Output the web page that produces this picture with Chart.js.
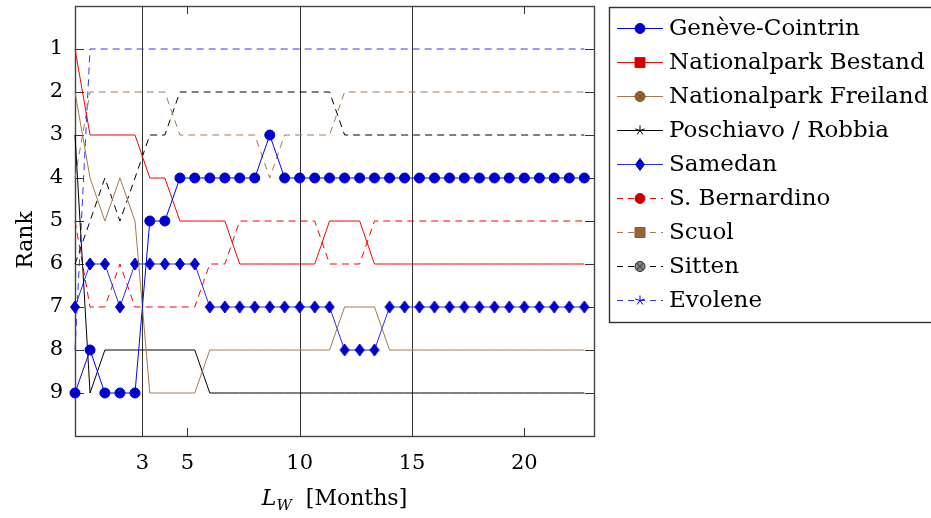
<!DOCTYPE html>
<html>
<head>
<meta charset="utf-8">
<script src="https://cdn.jsdelivr.net/npm/chart.js@4.4.1/dist/chart.umd.min.js"></script>
<style>
    html, body { margin: 0; padding: 0; background: #fff; }
    #wrap { width: 931px; height: 518px; }
</style>
</head>
<body>
<div id="wrap"><canvas id="graph"></canvas></div>
<script>
// Window length L_W in months (one point every 20 days)
const months = [0, 0.67, 1.33, 2, 2.67, 3.33, 4, 4.67, 5.33, 6, 6.67, 7.33, 8, 8.67, 9.33, 10,
    10.67, 11.33, 12, 12.67, 13.33, 14, 14.67, 15.33, 16, 16.67, 17.33, 18, 18.67, 19.33, 20,
    20.67, 21.33, 22, 22.67];

// Rank of each station per window length
const geneveCointrin = [9, 8, 9, 9, 9, 5, 5, 4, 4, 4, 4, 4, 4, 3, 4, 4, 4, 4, 4, 4,
    4, 4, 4, 4, 4, 4, 4, 4, 4, 4, 4, 4, 4, 4, 4];
const nationalparkBestand = [1, 3, 3, 3, 3, 4, 4, 5, 5, 5, 5, 6, 6, 6, 6, 6, 6, 5, 5, 5,
    6, 6, 6, 6, 6, 6, 6, 6, 6, 6, 6, 6, 6, 6, 6];
const nationalparkFreiland = [2, 4, 5, 4, 5, 9, 9, 9, 9, 8, 8, 8, 8, 8, 8, 8, 8, 8, 7, 7,
    7, 8, 8, 8, 8, 8, 8, 8, 8, 8, 8, 8, 8, 8, 8];
const poschiavoRobbia = [3, 9, 8, 8, 8, 8, 8, 8, 8, 9, 9, 9, 9, 9, 9, 9, 9, 9, 9, 9,
    9, 9, 9, 9, 9, 9, 9, 9, 9, 9, 9, 9, 9, 9, 9];
const samedan = [7, 6, 6, 7, 6, 6, 6, 6, 6, 7, 7, 7, 7, 7, 7, 7, 7, 7, 8, 8,
    8, 7, 7, 7, 7, 7, 7, 7, 7, 7, 7, 7, 7, 7, 7];
const sBernardino = [5, 7, 7, 6, 7, 7, 7, 7, 7, 6, 6, 5, 5, 5, 5, 5, 5, 6, 6, 6,
    5, 5, 5, 5, 5, 5, 5, 5, 5, 5, 5, 5, 5, 5, 5];
const scuol = [4, 2, 2, 2, 2, 2, 2, 3, 3, 3, 3, 3, 3, 4, 3, 3, 3, 3, 2, 2,
    2, 2, 2, 2, 2, 2, 2, 2, 2, 2, 2, 2, 2, 2, 2];
const sitten = [6, 5, 4, 5, 4, 3, 3, 2, 2, 2, 2, 2, 2, 2, 2, 2, 2, 2, 3, 3,
    3, 3, 3, 3, 3, 3, 3, 3, 3, 3, 3, 3, 3, 3, 3];
const evolene = [8, 1, 1, 1, 1, 1, 1, 1, 1, 1, 1, 1, 1, 1, 1, 1, 1, 1, 1, 1,
    1, 1, 1, 1, 1, 1, 1, 1, 1, 1, 1, 1, 1, 1, 1];

const stationNames = ['Genève-Cointrin', 'Nationalpark Bestand', 'Nationalpark Freiland',
    'Poschiavo / Robbia', 'Samedan', 'S. Bernardino', 'Scuol', 'Sitten', 'Evolene'];
const stationRanks = [geneveCointrin, nationalparkBestand, nationalparkFreiland, poschiavoRobbia,
    samedan, sBernardino, scuol, sitten, evolene];

// Axis ticks
const xTickValues = [3, 5, 10, 15, 20];
const guideMonths = [3, 10, 15];
const yTickValues = [1, 2, 3, 4, 5, 6, 7, 8, 9];

const FONT = 'DejaVu Serif';
const BLUE = '#0000ff', DARKBLUE = '#0000cc';
const RED = '#ff0000', DARKRED = '#cc0000';
const BROWN = '#a27a52', DARKBROWN = '#996633';
const DASH = [7, 5];

// Line / marker style per station (pgfplots look)
const looks = [
    { line: BLUE, dash: [], mark: 'circle', fill: DARKBLUE, edge: DARKBLUE, shown: true },
    { line: RED, dash: [], mark: 'square', fill: DARKRED, edge: RED },
    { line: BROWN, dash: [], mark: 'otimes', fill: DARKBROWN, edge: '#6b4a26' },
    { line: '#000', dash: [], mark: 'star', edge: '#000' },
    { line: '#2a2aff', dash: [], mark: 'diamond', fill: DARKBLUE, edge: DARKBLUE, shown: true },
    { line: RED, dash: DASH, mark: 'circle', fill: DARKRED, edge: DARKRED },
    { line: BROWN, dash: DASH, mark: 'square', fill: DARKBROWN, edge: '#8a5a2a' },
    { line: '#000', dash: DASH, mark: 'otimes', fill: '#888', edge: '#222' },
    { line: '#3333ff', dash: DASH, mark: 'star', edge: BLUE }
];

const drawMark = (ctx, look, cx, cy) => {
    ctx.save();
    ctx.setLineDash([]);
    ctx.lineWidth = 1;
    ctx.fillStyle = look.fill || look.edge;
    ctx.strokeStyle = look.edge;
    ctx.beginPath();
    if (look.mark === 'circle' || look.mark === 'otimes') {
        ctx.arc(cx, cy, 5, 0, Math.PI * 2);
        ctx.fill();
        ctx.stroke();
        if (look.mark === 'otimes') {
            const d = 3.5;
            ctx.beginPath();
            ctx.moveTo(cx - d, cy - d); ctx.lineTo(cx + d, cy + d);
            ctx.moveTo(cx - d, cy + d); ctx.lineTo(cx + d, cy - d);
            ctx.stroke();
        }
    } else if (look.mark === 'square') {
        ctx.rect(cx - 5, cy - 5, 10, 10);
        ctx.fill();
        ctx.stroke();
    } else if (look.mark === 'diamond') {
        ctx.moveTo(cx, cy - 6); ctx.lineTo(cx + 4.5, cy);
        ctx.lineTo(cx, cy + 6); ctx.lineTo(cx - 4.5, cy);
        ctx.closePath();
        ctx.fill();
        ctx.stroke();
    } else if (look.mark === 'star') {
        for (let i = 0; i < 5; i++) {
            const a = -Math.PI / 2 + i * 2 * Math.PI / 5;
            ctx.moveTo(cx, cy);
            ctx.lineTo(cx + 5 * Math.cos(a), cy + 5 * Math.sin(a));
        }
        ctx.stroke();
    }
    ctx.restore();
};

// Diamond marker as a small canvas so it can be taller than wide
const diamondImg = document.createElement('canvas');
diamondImg.width = 12; diamondImg.height = 14;
drawMark(diamondImg.getContext('2d'), looks[4], 6, 7);

const datasets = stationNames.map((name, i) => {
    const look = looks[i];
    return {
        label: name,
        data: months.map((m, k) => ({ x: m, y: stationRanks[i][k] })),
        borderColor: look.line,
        borderWidth: 1,
        borderDash: look.dash,
        tension: 0,
        fill: false,
        clip: false,
        pointRadius: look.shown ? 5 : 0,
        pointHoverRadius: look.shown ? 5 : 0,
        pointStyle: look.mark === 'diamond' ? diamondImg : 'circle',
        pointBackgroundColor: look.fill,
        pointBorderColor: look.edge,
        pointBorderWidth: 1
    };
});

const framePlugin = {
    id: 'frame',
    beforeDatasetsDraw (chart) {
        const { ctx, chartArea: a, scales: { x, y } } = chart;
        const px = v => Math.round(x.getPixelForValue(v)) + 0.5;
        const py = v => Math.round(y.getPixelForValue(v)) + 0.5;
        ctx.save();
        ctx.lineWidth = 1;
        ctx.strokeStyle = '#333';
        ctx.beginPath();
        // full height guide lines
        guideMonths.forEach((v) => {
            ctx.moveTo(px(v), a.top); ctx.lineTo(px(v), a.bottom);
        });
        // inward ticks, on both sides
        xTickValues.forEach((v) => {
            ctx.moveTo(px(v), a.bottom); ctx.lineTo(px(v), a.bottom - 8);
            ctx.moveTo(px(v), a.top); ctx.lineTo(px(v), a.top + 8);
        });
        yTickValues.forEach((v) => {
            ctx.moveTo(a.left, py(v)); ctx.lineTo(a.left + 9, py(v));
            ctx.moveTo(a.right, py(v)); ctx.lineTo(a.right - 9, py(v));
        });
        ctx.stroke();
        ctx.strokeStyle = '#444';
        ctx.lineWidth = 1.4;
        ctx.strokeRect(Math.round(a.left) + 0.5, Math.round(a.top) + 0.5,
            Math.round(a.right - a.left), Math.round(a.bottom - a.top));
        ctx.restore();
    },
    afterDraw (chart) {
        const { ctx, chartArea: a } = chart;
        ctx.save();
        ctx.fillStyle = '#000';

        // x axis title: L_W [Months]
        const big = `22px ${FONT}`, it = `italic 22px ${FONT}`, sub = `italic 15px ${FONT}`;
        ctx.font = it; const wL = ctx.measureText('L').width;
        ctx.font = sub; const wW = ctx.measureText('W').width;
        ctx.font = big; const wM = ctx.measureText('  [Months]').width;
        let tx = (a.left + a.right) / 2 - (wL + wW + wM) / 2;
        const ty = 505;
        ctx.textBaseline = 'alphabetic';
        ctx.textAlign = 'left';
        ctx.font = it; ctx.fillText('L', tx, ty); tx += wL;
        ctx.font = sub; ctx.fillText('W', tx, ty + 5); tx += wW;
        ctx.font = big; ctx.fillText('  [Months]', tx, ty);

        // y axis title
        ctx.save();
        ctx.translate(26, 240);
        ctx.rotate(-Math.PI / 2);
        ctx.textAlign = 'center';
        ctx.textBaseline = 'middle';
        ctx.font = big;
        ctx.fillText('Rank', 0, 0);
        ctx.restore();

        // legend box
        ctx.strokeStyle = '#333';
        ctx.lineWidth = 1.4;
        ctx.strokeRect(609.5, 7.5, 340, 315);
        ctx.font = `23px ${FONT}`;
        ctx.textAlign = 'left';
        ctx.textBaseline = 'middle';
        stationNames.forEach((name, i) => {
            const look = looks[i];
            const cy = 28 + i * 34;
            ctx.save();
            ctx.strokeStyle = look.line;
            ctx.lineWidth = 1;
            ctx.setLineDash(look.dash.length ? [6, 5] : []);
            ctx.beginPath();
            ctx.moveTo(617, cy + 0.5); ctx.lineTo(663, cy + 0.5);
            ctx.stroke();
            ctx.restore();
            drawMark(ctx, look, 640, cy + 0.5);
            ctx.fillText(name, 669, cy + 1);
        });
        ctx.restore();
    }
};

const graph = document.getElementById('graph');
const rankChart = new Chart(graph, {
    type: 'line',
    data: { datasets: datasets },
    options: {
        responsive: true,
        maintainAspectRatio: false,
        animation: false,
        events: [],
        layout: { padding: { left: 0, top: 5, right: 337, bottom: 0 } },
        plugins: { legend: { display: false }, tooltip: { enabled: false } },
        scales: {
            x: {
                type: 'linear',
                min: 0,
                max: 23.1,
                grid: { display: false },
                border: { display: false },
                afterBuildTicks: (s) => { s.ticks = xTickValues.map(v => ({ value: v })); },
                afterFit: (s) => {
                    s.height = 82;
                    s.paddingLeft = 0;
                    s.paddingRight = 0;
                },
                ticks: {
                    font: { family: FONT, size: 21 },
                    color: '#000',
                    padding: 7,
                    maxRotation: 0,
                    autoSkip: false
                }
            },
            y: {
                type: 'linear',
                min: 0,
                max: 10,
                reverse: true,
                grid: { display: false },
                border: { display: false },
                afterBuildTicks: (s) => { s.ticks = yTickValues.map(v => ({ value: v })); },
                afterFit: (s) => {
                    s.width = 75;
                    s.paddingTop = 0;
                    s.paddingBottom = 0;
                },
                ticks: {
                    font: { family: FONT, size: 21 },
                    color: '#000',
                    padding: 4,
                    autoSkip: false
                }
            }
        }
    },
    plugins: [framePlugin]
});
</script>
</body>
</html>
